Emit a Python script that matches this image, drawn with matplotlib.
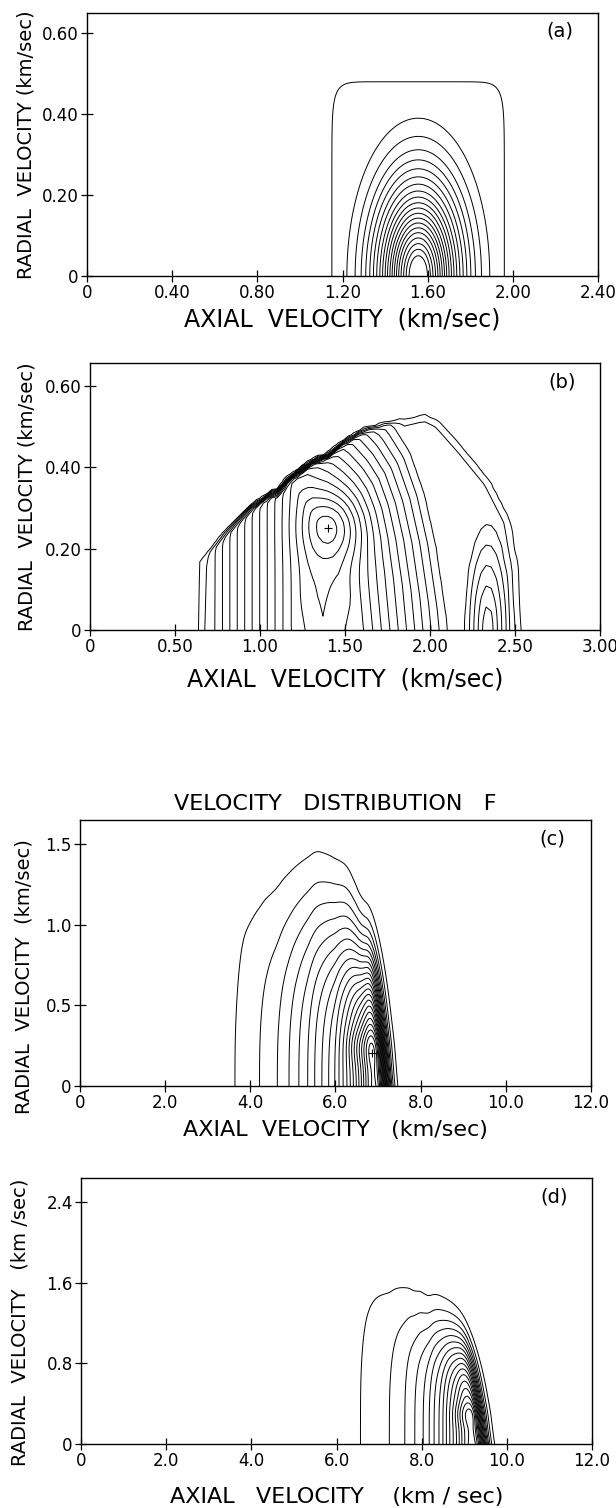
import numpy as np
import matplotlib.pyplot as plt
from matplotlib.path import Path

plt.rcParams['font.family'] = ['DejaVu Sans']

# ---------- panel (a) ----------
a_centre = 1.556                       # axial velocity of the nested arches
a_tops = [0.39, 0.345, 0.312, 0.287, 0.265, 0.245, 0.227, 0.21, 0.195, 0.181,
          0.168, 0.155, 0.143, 0.131, 0.119, 0.107, 0.094, 0.08, 0.066, 0.05]
a_ratio = 0.86                         # half width / height of an arch
a_plateau = [1.15, 1.96, 0.48]         # left, right, top of the outer contour

# ---------- panel (b) ----------
b_edge_x = [0.628, 0.64, 0.70, 0.79, 0.95, 1.07, 1.10, 1.17, 1.32, 1.39, 1.48,
            1.60, 1.83, 1.97, 2.06, 2.20, 2.36, 2.48, 2.53, 2.545]
b_edge_y = [0.0, 0.172, 0.196, 0.237, 0.303, 0.336, 0.338, 0.372, 0.417, 0.426,
            0.458, 0.49, 0.52, 0.534, 0.516, 0.45, 0.368, 0.27, 0.147, 0.0]
b_outer_x = [0.628, 0.628, 1.0, 1.36, 1.5, 1.7, 1.85, 1.97, 2.07, 2.15, 2.22,
             2.4, 1.42]
b_outer_y = [-0.8, 0.75, 0.8, 0.72, 0.69, 0.62, 0.55, 0.47, 0.35, 0.2, 0.0,
             -0.8, -2.8]
b_centre = [1.36, 0.25, 15.3]          # x, y, level of the main hump
b_peak = [1.43, 0.254, 2.5]            # x, y, extra height of the maximum
b_side = [2.34, 0.0, 5.6]              # x, y, height of the second hump
b_shelf = 2.6                          # level of the outer shelf
b_levels = np.arange(1, 18)

# ---------- panel (c) ----------
c_base_x = [3.0, 3.65, 4.22, 4.64, 4.91, 5.14, 5.35, 5.51, 5.68, 5.84, 5.99,
            6.08, 6.18, 6.27, 6.35, 6.42, 6.49, 6.55, 6.61, 6.66, 6.71, 6.76,
            6.80, 6.95, 7.6]
c_base_n = [0.5] + list(range(1, 23)) + [24, 28]
c_width_x = [3.6, 3.76, 4.0, 4.5, 5.56, 5.9, 6.27, 6.62, 6.9, 7.6]
c_width_y = [1.3, 1.42, 1.29, 1.2, 1.16, 1.09, 1.0, 0.82, 0.82, 0.82]
c_cliff = [7.17, 0.32]
c_bump = [6.3, 0.25]
c_levels = np.arange(1, 26)

# ---------- panel (d) ----------
d_base_x = [6.0, 6.57, 7.25, 7.61, 7.84, 8.04, 8.18, 8.29, 8.41, 8.50, 8.58,
            8.66, 8.74, 8.82, 8.88, 8.94, 9.00, 9.07, 9.2, 9.9]
d_base_n = [0.5] + list(range(1, 18)) + [19, 23]
d_width_x = [6.5, 6.63, 7.1, 7.65, 7.84, 8.0, 8.11, 8.35, 8.82, 9.2, 9.5, 10.0]
d_width_y = [1.9, 1.95, 1.7, 1.5, 1.39, 1.36, 1.28, 1.25, 1.09, 0.95, 0.85, 0.85]
d_cliff = [9.44, 0.32]
d_bump = [8.8, 0.3]
d_levels = np.arange(1, 22)

# ---------- axes text ----------
a_xt = [0, 0.4, 0.8, 1.2, 1.6, 2.0, 2.4]
a_xl = ['0', '0.40', '0.80', '1.20', '1.60', '2.00', '2.40']
a_yt = [0, 0.2, 0.4, 0.6]
a_yl = ['0', '0.20', '0.40', '0.60']
b_xt = [0, 0.5, 1.0, 1.5, 2.0, 2.5, 3.0]
b_xl = ['0', '0.50', '1.00', '1.50', '2.00', '2.50', '3.00']
c_xt = [0, 2, 4, 6, 8, 10, 12]
c_xl = ['0', '2.0', '4.0', '6.0', '8.0', '10.0', '12.0']
c_yt = [0, 0.5, 1.0, 1.5]
c_yl = ['0', '0.5', '1.0', '1.5']
d_yt = [0, 0.8, 1.6, 2.4]
d_yl = ['0', '0.8', '1.6', '2.4']


def soft_step(z, w):
    return 0.5 * (1 + np.tanh(z / (2 * w)))


def smooth_interp(X, xs, vs, win):
    xf = np.linspace(xs[0], xs[-1], 3000)
    vf = np.interp(xf, xs, vs)
    k = max(1, int(win / (xf[1] - xf[0])))
    vp = np.pad(vf, k, mode='edge')
    vs2 = np.convolve(vp, np.ones(k) / k, mode='same')[k:-k]
    return np.interp(X, xf, vs2)


def edge_distance(X, Y, ex, ey, sx, sy):
    # signed distance (in pixels) to the outer edge, positive inside
    px, py = X * sx, Y * sy
    qx, qy = np.array(ex) * sx, np.array(ey) * sy
    d = np.full(X.shape, np.inf)
    for i in range(len(qx) - 1):
        vx, vy = qx[i + 1] - qx[i], qy[i + 1] - qy[i]
        t = ((px - qx[i]) * vx + (py - qy[i]) * vy) / (vx * vx + vy * vy)
        t = np.clip(t, 0, 1)
        d = np.minimum(d, np.hypot(px - qx[i] - t * vx, py - qy[i] - t * vy))
    poly = list(zip(ex, ey)) + [(ex[-1], -1), (ex[0], -1)]
    inside = Path(poly).contains_points(np.c_[X.ravel(), Y.ravel()])
    return np.where(inside.reshape(X.shape), d, -d)


def star_ratio(X, Y, cx, cy, ox, oy):
    # distance from the centre divided by the distance to the outline
    px, py = X - cx, Y - cy
    r = np.hypot(px, py) + 1e-9
    ux, uy = px / r, py / r
    qx, qy = np.array(ox) - cx, np.array(oy) - cy
    R = np.full(X.shape, np.inf)
    n = len(qx)
    for i in range(n):
        ax_, ay_ = qx[i], qy[i]
        ex, ey = qx[(i + 1) % n] - ax_, qy[(i + 1) % n] - ay_
        den = ux * ey - uy * ex
        with np.errstate(divide='ignore', invalid='ignore'):
            t = (ax_ * ey - ay_ * ex) / den
            s = (ax_ * uy - ay_ * ux) / den
        ok = (t > 0) & (s >= 0) & (s <= 1)
        R = np.where(ok, np.minimum(R, t), R)
    return r / R


def arch_field(X, Y, bx, bn, wx, wy, cliff, bump, p):
    T = smooth_interp(X, bx, bn, 0.12)
    sig = smooth_interp(X, wx, wy, 0.2)
    top = np.exp(-(Y / sig) ** p)
    edge = 1 - soft_step(X - cliff[0] + cliff[1] * Y, 0.09)
    lens = 1 + 0.08 * np.exp(-((Y - bump[1]) / 0.12) ** 2) * soft_step(X - bump[0], 0.08)
    return T * top * edge * lens


def style(ax, xlim, ylim, xt, xl, yt, yl, tag):
    ax.set_xlim(*xlim)
    ax.set_ylim(*ylim)
    ax.set_xticks(xt)
    ax.set_xticklabels(xl)
    ax.set_yticks(yt)
    ax.set_yticklabels(yl)
    ax.tick_params(direction='inout', length=8, width=0.9, labelsize=12,
                   pad=2, colors='k')
    for s in ax.spines.values():
        s.set_linewidth(1.0)
    ax.text(0.925, 0.93, tag, transform=ax.transAxes, fontsize=14,
            ha='center', va='center')


def labels(ax, xtext, xpos, ytext, ypos, xsize=17):
    ax.set_xlabel(xtext, fontsize=xsize)
    ax.xaxis.set_label_coords(*xpos)
    ax.xaxis.label.set_va('center')
    ax.set_ylabel(ytext, fontsize=14)
    ax.yaxis.set_label_coords(*ypos)
    ax.yaxis.label.set_va('center')


W, H = 616, 1508
fig = plt.figure(figsize=(W / 100, H / 100), dpi=100)


def add_axes(l, r, t, b):
    return fig.add_axes([l / W, 1 - b / H, (r - l) / W, (b - t) / H])


lw = 0.7

# (a)
ax = add_axes(87, 598, 13, 276)
X, Y = np.meshgrid(np.linspace(1.0, 2.1, 500), np.linspace(0, 0.6, 400))
cx = (a_plateau[0] + a_plateau[1]) / 2
hw = (a_plateau[1] - a_plateau[0]) / 2
q = (np.abs(X - cx) / hw) ** 12 + (Y / a_plateau[2]) ** 12
ax.contour(X, Y, q, levels=[1.0], colors='k', linewidths=lw)
r = np.hypot((X - a_centre) / a_ratio, Y)
ax.contour(X, Y, r, levels=sorted(a_tops), colors='k', linewidths=lw)
style(ax, (0, 2.4), (0, 0.65), a_xt, a_xl, a_yt, a_yl, '(a)')
labels(ax, 'AXIAL  VELOCITY  (km/sec)', (0.5, -0.167),
       'RADIAL  VELOCITY (km/sec)', (-0.119, 0.5))

# (b)  coarse grid, like the original plotter
ax = add_axes(90, 600, 363, 630)
X, Y = np.meshgrid(np.arange(0.5, 2.72, 0.03), np.arange(0, 0.664, 0.012))
sd = edge_distance(X, Y, b_edge_x, b_edge_y, 170, 406)
Wb = soft_step(sd, 1.0)
rho = star_ratio(X, Y, b_centre[0], b_centre[1], b_outer_x, b_outer_y)
c0 = 0.15
g = (np.sqrt(c0 ** 2 + rho ** 2) - c0) / (np.sqrt(c0 ** 2 + 1) - c0)
P = b_centre[2] - (b_centre[2] - 0.5) * g
shelf = b_shelf * np.clip(0.45 + sd / 25, 0, 1)
P = np.maximum(P, shelf)
G = b_peak[2] * np.exp(-((X - b_peak[0]) / 0.17) ** 2 - ((Y - b_peak[1]) / 0.075) ** 2)
S = b_side[2] - np.hypot(39 * (X - b_side[0]), 20 * (Y - b_side[1]))
Fb = Wb * (P + G + np.clip(S, 0, None))
ax.contour(X, Y, Fb, levels=b_levels, colors='k', linewidths=lw)
k = np.argmax(Fb)
ax.plot(X.flat[k], Y.flat[k], marker='+', color='k', ms=6, mew=0.8)
style(ax, (0, 3.0), (0, 0.657), b_xt, b_xl, a_yt, a_yl, '(b)')
labels(ax, 'AXIAL  VELOCITY  (km/sec)', (0.5, -0.187),
       'RADIAL  VELOCITY (km/sec)', (-0.123, 0.5))

# (c)
ax = add_axes(80, 591, 820, 1086)
X, Y = np.meshgrid(np.linspace(3.0, 8.0, 600), np.linspace(0, 1.65, 400))
Fc = arch_field(X, Y, c_base_x, c_base_n, c_width_x, c_width_y, c_cliff, c_bump, 3)
ax.contour(X, Y, Fc, levels=c_levels, colors='k', linewidths=lw)
k = np.argmax(Fc)
ax.plot(X.flat[k], Y.flat[k], marker='+', color='k', ms=6, mew=0.8)
style(ax, (0, 12), (0, 1.65), c_xt, c_xl, c_yt, c_yl, '(c)')
ax.set_title('VELOCITY   DISTRIBUTION   F', fontsize=16, pad=7)
labels(ax, 'AXIAL  VELOCITY   (km/sec)', (0.5, -0.165),
       'RADIAL  VELOCITY  (km/sec)', (-0.11, 0.41), 16)

# (d)
ax = add_axes(81, 592, 1178, 1444)
X, Y = np.meshgrid(np.linspace(6.0, 10.5, 560), np.linspace(0, 2.64, 450))
Fd = arch_field(X, Y, d_base_x, d_base_n, d_width_x, d_width_y, d_cliff, d_bump, 4)
ax.contour(X, Y, Fd, levels=d_levels, colors='k', linewidths=lw)
style(ax, (0, 12), (0, 2.64), c_xt, c_xl, d_yt, d_yl, '(d)')
labels(ax, 'AXIAL   VELOCITY    (km / sec)', (0.5, -0.2),
       'RADIAL  VELOCITY   (km /sec)', (-0.119, 0.459), 16)

fig.savefig('out.png', dpi=100)
